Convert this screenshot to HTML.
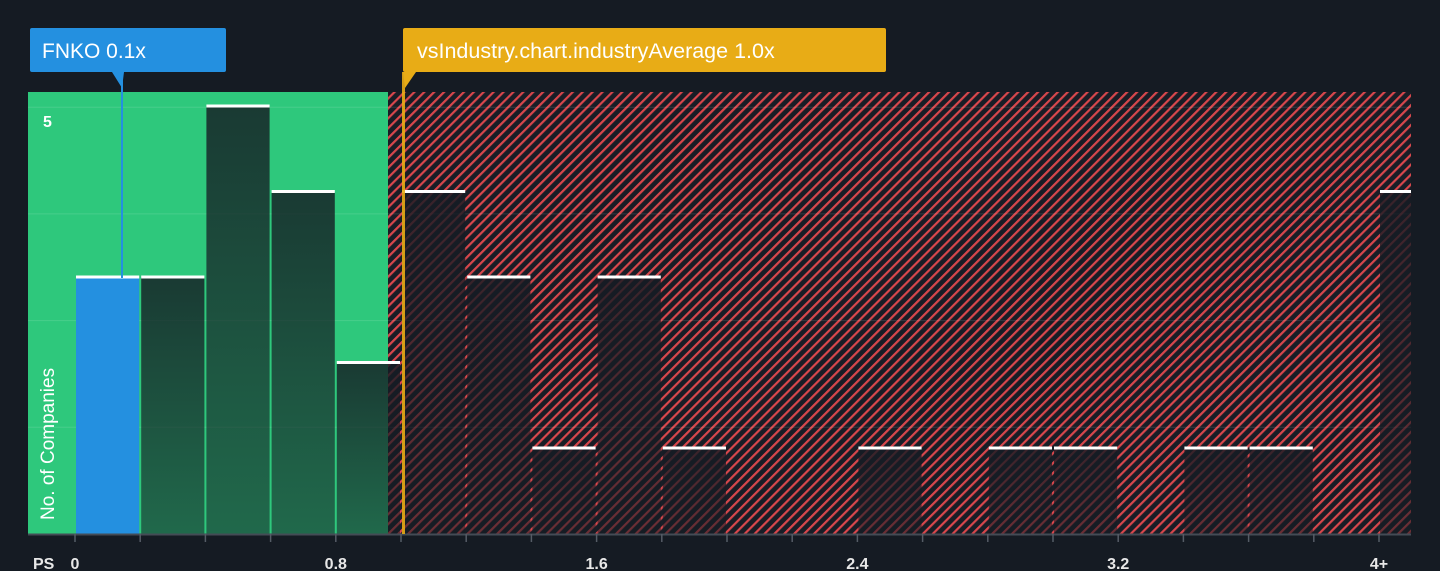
<!DOCTYPE html>
<html><head><meta charset="utf-8"><style>
html,body{margin:0;padding:0;background:#151b23;}
svg{display:block;font-family:"Liberation Sans",sans-serif;}
</style></head><body>
<svg width="1440" height="571" viewBox="0 0 1440 571">
<defs>
<pattern id="hatch" patternUnits="userSpaceOnUse" width="7" height="7" patternTransform="rotate(45)">
<rect width="7" height="7" fill="#181d26"/>
<rect x="0" y="0" width="2.2" height="7" fill="#d8474c"/>
</pattern>
<linearGradient id="barg" x1="0" y1="0" x2="0" y2="1">
<stop offset="0" stop-color="#151b23" stop-opacity="0.82"/>
<stop offset="1" stop-color="#151b23" stop-opacity="0.55"/>
</linearGradient>
<clipPath id="plotclip"><rect x="28" y="80" width="1383" height="455"/></clipPath>
</defs>
<rect x="28" y="92" width="360" height="442" fill="#2ec87c"/>
<rect x="388" y="92" width="1023" height="442" fill="url(#hatch)"/>
<g id="grid"></g>
<g id="bars" clip-path="url(#plotclip)"></g>
<g id="axis"></g>
<line x1="122" y1="80" x2="122" y2="278" stroke="#2490e0" stroke-width="2"/>
<line x1="403.5" y1="72" x2="403.5" y2="534" stroke="#e8ac16" stroke-width="3" opacity="0.9"/>
<g>
<rect x="30" y="28" width="196" height="44" rx="2" fill="#2490e0"/>
<polygon points="112,72 124,72 122,88" fill="#2490e0"/>
<text x="42" y="58" fill="#fff" font-size="21">FNKO 0.1x</text>
</g>
<g>
<rect x="403" y="28" width="483" height="44" rx="2" fill="#e8ac16"/>
<polygon points="403,72 416,72 405,88" fill="#e8ac16"/>
<text x="417" y="58" fill="#fff" font-size="21.5">vsIndustry.chart.industryAverage 1.0x</text>
</g>
<text x="43" y="127" fill="#fff" font-size="16" font-weight="bold">5</text>
<text transform="translate(54,520) rotate(-90)" fill="#fff" font-size="19">No. of Companies</text>
</svg>
<script>
const counts=[3,3,5,4,2,4,3,1,3,1,0,0,1,0,1,1,0,1,1,0,4];
const tickLabels=["0","0.8","1.6","2.4","3.2","4+"];
const tickBins=[0,4,8,12,16,20];
const highlightBin=0;
const NS="http://www.w3.org/2000/svg";
const x0=75,bw=65.2,base=534,unit=85.5;
const xs=b=>x0+b*bw;
const ys=v=>base-v*unit;
function mk(t,a,p){const e=document.createElementNS(NS,t);for(const k in a)e.setAttribute(k,a[k]);p.appendChild(e);return e;}
const grid=document.getElementById('grid'),bars=document.getElementById('bars'),axis=document.getElementById('axis');
for(let k=1;k<=4;k++){const y=base-k*106.7;
const g=mk('line',{x1:28,x2:1411,y1:y,y2:y,stroke:'#ffffff','stroke-opacity':0.12,'stroke-width':1},grid);

}
counts.forEach((c,i)=>{if(!c)return;
const x=xs(i)+1,w=bw-2,y=ys(c);
const r=mk('rect',{x:x,y:y,width:w,height:base-y,fill:i===highlightBin?'#2490e0':'url(#barg)'},bars);


const cap=mk('rect',{x:x,y:y-2,width:w,height:3,fill:'#ffffff'},bars);

});
const ax=mk('line',{x1:28,x2:1411,y1:base+0.5,y2:base+0.5,stroke:'#444b55','stroke-width':2},axis);


for(let i=0;i<=20;i++){const t=mk('line',{x1:xs(i),x2:xs(i),y1:base,y2:base+8,stroke:'#555c66','stroke-width':1.5},axis);

}
tickLabels.forEach((l,j)=>{const t=mk('text',{x:xs(tickBins[j]),y:569,fill:'#e8e8e8','font-size':16,'font-weight':'bold','text-anchor':'middle'},axis);
t.textContent=l;

});
const ps=mk('text',{x:33,y:569,fill:'#e8e8e8','font-size':16,'font-weight':'bold'},axis);
ps.textContent='PS';


</script>
</body></html>
